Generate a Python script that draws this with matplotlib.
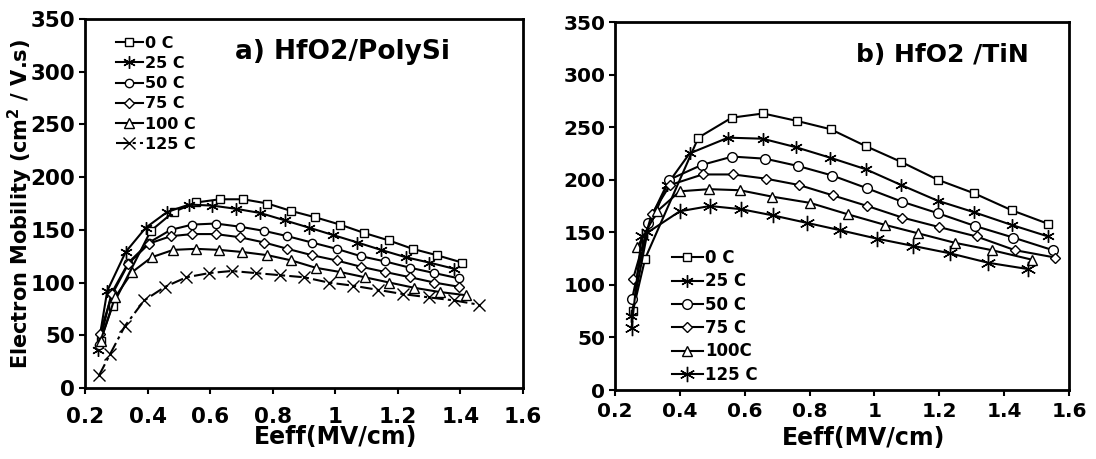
import numpy as np
import matplotlib
matplotlib.use('Agg')
import matplotlib.pyplot as plt
from matplotlib.ticker import FuncFormatter, MultipleLocator

plt.rcParams['font.family'] = 'DejaVu Sans'
plt.rcParams['font.weight'] = 'bold'

temps_a = ['0 C', '25 C', '50 C', '75 C', '100 C', '125 C']
temps_b = ['0 C', '25 C', '50 C', '75 C', '100C', '125 C']

# a) HfO2/PolySi  (Eeff in MV/cm, mobility in cm2/V.s)
a_x_0 = [0.25, 0.288, 0.41, 0.483, 0.556, 0.631, 0.706, 0.783, 0.858, 0.935, 1.015, 1.093, 1.171, 1.247, 1.324, 1.405]
a_y_0 = [45, 78, 149, 167, 176, 179, 179, 175, 168, 162, 155, 147, 140, 132, 126, 119]
a_x_25 = [0.24, 0.271, 0.33, 0.394, 0.463, 0.533, 0.607, 0.682, 0.76, 0.839, 0.917, 0.994, 1.071, 1.146, 1.226, 1.3, 1.381]
a_y_25 = [36, 92, 129, 152, 167, 174, 173, 170, 166, 159, 152, 145, 138, 131, 124, 119, 113]
a_x_50 = [0.245, 0.285, 0.339, 0.405, 0.474, 0.543, 0.618, 0.695, 0.773, 0.847, 0.925, 1.004, 1.082, 1.16, 1.24, 1.317, 1.395]
a_y_50 = [41, 90, 119, 138, 150, 155, 156, 153, 149, 144, 138, 132, 125, 120, 114, 109, 104]
a_x_75 = [0.247, 0.287, 0.339, 0.405, 0.474, 0.543, 0.618, 0.695, 0.773, 0.847, 0.925, 1.004, 1.082, 1.16, 1.24, 1.317, 1.395]
a_y_75 = [51, 89, 118, 137, 144, 146, 146, 143, 138, 132, 126, 121, 115, 110, 105, 100, 96]
a_x_100 = [0.25, 0.296, 0.351, 0.413, 0.482, 0.554, 0.629, 0.703, 0.783, 0.86, 0.938, 1.016, 1.095, 1.173, 1.253, 1.335, 1.418]
a_y_100 = [45, 86, 110, 124, 131, 132, 131, 129, 126, 121, 114, 110, 105, 100, 95, 91, 88]
a_x_125 = [0.245, 0.28, 0.328, 0.389, 0.456, 0.524, 0.597, 0.669, 0.746, 0.824, 0.901, 0.979, 1.058, 1.138, 1.218, 1.298, 1.381, 1.459]
a_y_125 = [12, 32, 59, 83, 96, 105, 109, 111, 109, 107, 105, 100, 97, 93, 89, 86, 83, 79]

# b) HfO2/TiN
b_x_0 = [0.255, 0.293, 0.457, 0.56, 0.657, 0.76, 0.865, 0.973, 1.082, 1.195, 1.308, 1.423, 1.536]
b_y_0 = [75, 125, 240, 259, 263, 256, 248, 232, 217, 200, 187, 171, 158]
b_x_25 = [0.25, 0.3, 0.36, 0.43, 0.549, 0.655, 0.757, 0.863, 0.973, 1.082, 1.195, 1.308, 1.423, 1.536]
b_y_25 = [70, 150, 195, 225, 240, 239, 231, 221, 210, 195, 180, 169, 157, 146]
b_x_50 = [0.253, 0.303, 0.367, 0.467, 0.562, 0.663, 0.765, 0.87, 0.976, 1.086, 1.197, 1.31, 1.428, 1.55]
b_y_50 = [87, 159, 200, 214, 222, 220, 213, 204, 192, 179, 168, 156, 145, 133]
b_x_75 = [0.256, 0.313, 0.37, 0.47, 0.565, 0.665, 0.767, 0.873, 0.978, 1.086, 1.199, 1.315, 1.433, 1.557]
b_y_75 = [106, 167, 195, 205, 205, 201, 195, 185, 175, 164, 155, 146, 133, 126]
b_x_100 = [0.269, 0.33, 0.4, 0.491, 0.585, 0.683, 0.801, 0.919, 1.033, 1.135, 1.248, 1.362, 1.485]
b_y_100 = [136, 170, 189, 191, 190, 184, 178, 167, 157, 149, 140, 133, 124]
b_x_125 = [0.251, 0.282, 0.4, 0.493, 0.588, 0.688, 0.791, 0.894, 1.007, 1.12, 1.233, 1.351, 1.474]
b_y_125 = [59, 146, 170, 175, 172, 166, 159, 152, 144, 137, 130, 121, 115]

a_series = [(a_x_0, a_y_0), (a_x_25, a_y_25), (a_x_50, a_y_50),
            (a_x_75, a_y_75), (a_x_100, a_y_100), (a_x_125, a_y_125)]
b_series = [(b_x_0, b_y_0), (b_x_25, b_y_25), (b_x_50, b_y_50),
            (b_x_75, b_y_75), (b_x_100, b_y_100), (b_x_125, b_y_125)]

asterisk = (6, 2, 0)
a_markers = ['s', asterisk, 'o', 'D', '^', 'x']
a_sizes = [6, 9, 6, 5, 7, 8]
a_styles = ['-', '-', '-', '-', '-', (0, (6, 2, 1.5, 2))]
b_markers = ['s', asterisk, 'o', 'D', '^', asterisk]
b_sizes = [6, 9, 7, 5, 7, 11]

fig = plt.figure(figsize=(10.96, 4.59), dpi=100)
ax1 = fig.add_axes([85 / 1096, 71 / 459, 438 / 1096, 369 / 459])
ax2 = fig.add_axes([615 / 1096, 69 / 459, 454 / 1096, 368 / 459])

for i, (xs, ys) in enumerate(a_series):
    ax1.plot(xs, ys, color='black', lw=1.5, ls=a_styles[i], marker=a_markers[i],
             ms=a_sizes[i], mfc='white', mec='black', mew=1.0, label=temps_a[i])

for i, (xs, ys) in enumerate(b_series):
    ax2.plot(xs, ys, color='black', lw=1.5, marker=b_markers[i],
             ms=b_sizes[i], mfc='white', mec='black', mew=1.0, label=temps_b[i])

fmt = FuncFormatter(lambda v, p: '%g' % round(v, 2))
for ax, lsize, xpad in [(ax1, 15.5, 9.5), (ax2, 14.5, 4.5)]:
    ax.set_xlim(0.2, 1.6)
    ax.set_ylim(0, 350)
    ax.xaxis.set_major_locator(MultipleLocator(0.2))
    ax.yaxis.set_major_locator(MultipleLocator(50))
    ax.xaxis.set_major_formatter(fmt)
    for s in ax.spines.values():
        s.set_linewidth(2)
    ax.tick_params(axis='both', direction='out', length=4, width=1.5, labelsize=lsize)
    ax.tick_params(axis='x', pad=xpad)
    ax.tick_params(axis='y', pad=3)
    for t in ax.get_xticklabels() + ax.get_yticklabels():
        t.set_fontweight('bold')
    ax.set_xlabel('Eeff(MV/cm)', fontsize=17, fontweight='bold')
    ax.xaxis.label.set_va('center')

ax1.xaxis.set_label_coords(0.571, -0.133)
ax2.xaxis.set_label_coords(0.548, -0.13)

ax1.set_ylabel(r'Electron Mobility (cm$^\mathbf{2}$ / V.s)', fontsize=15, fontweight='bold')
ax1.yaxis.label.set_va('center')
ax1.yaxis.set_label_coords(-0.148, 0.5)

ax1.text(0.342, 0.91, 'a) HfO2/PolySi', transform=ax1.transAxes, fontsize=19,
         fontweight='bold', ha='left', va='center')
ax2.text(0.53, 0.91, 'b) HfO2 /TiN', transform=ax2.transAxes, fontsize=18,
         fontweight='bold', ha='left', va='center')

leg1 = ax1.legend(loc='upper left', bbox_to_anchor=(0.07, 0.955), frameon=False,
                  fontsize=11.5, handlelength=1.7, handletextpad=0.15,
                  labelspacing=0.33, numpoints=1, borderaxespad=0, borderpad=0)
leg2 = ax2.legend(loc='upper left', bbox_to_anchor=(0.125, 0.383), frameon=False,
                  fontsize=12, handlelength=1.85, handletextpad=0.15,
                  labelspacing=0.32, numpoints=1, borderaxespad=0, borderpad=0)
for leg in (leg1, leg2):
    for t in leg.get_texts():
        t.set_fontweight('bold')

fig.savefig('out.png', dpi=100)
